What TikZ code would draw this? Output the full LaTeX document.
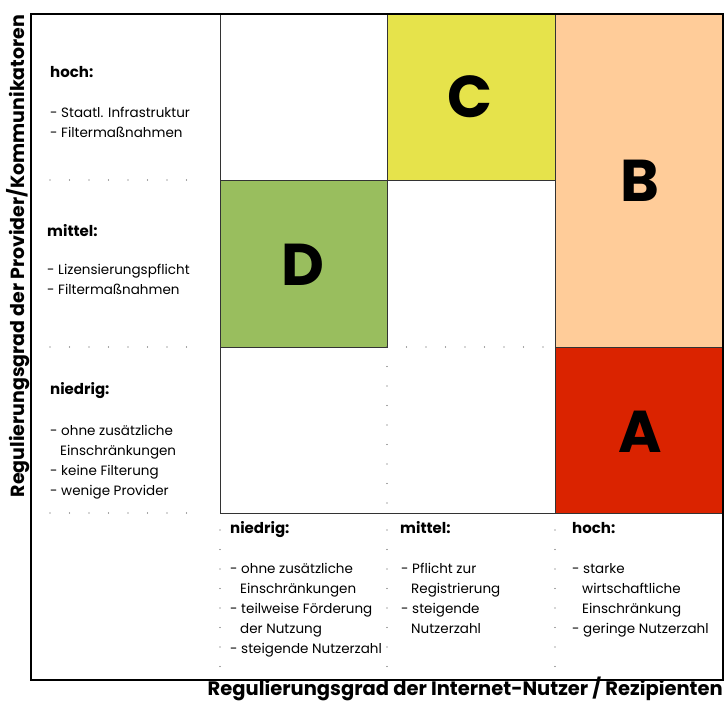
\documentclass[tikz,border=0pt]{standalone}
\usepackage{fontspec}
\setmainfont{Poppins}
\definecolor{cA}{HTML}{DA2300}
\definecolor{cB}{HTML}{FFCC99}
\definecolor{cC}{HTML}{E6E34B}
\definecolor{cD}{HTML}{99BE5E}
\begin{document}
\begin{tikzpicture}[x=1pt,y=-1pt,
  cell/.style={draw=black!80, line width=0.8pt},
  dotline/.style={draw=black!70, line width=1.4pt, dash pattern=on 0pt off 19.5pt, line cap=round},
  big/.style={font=\fontsize{59}{59}\selectfont\bfseries},
  head/.style={anchor=base west, inner sep=0pt, font=\fontsize{15}{15}\selectfont\bfseries},
  txt/.style={anchor=base west, align=left, inner sep=0pt, font=\fontsize{13.5}{20}\selectfont},
  axis/.style={inner sep=0pt, font=\fontsize{19}{20}\selectfont\bfseries}]
\useasboundingbox (0,0) rectangle (726,703);
% cells
\path[fill=cC] (387,14) rectangle (555,180);
\path[fill=cB] (555,14) rectangle (722,347);
\path[fill=cD] (220,180) rectangle (387,347);
\path[fill=cA] (555,347) rectangle (722,513);
\draw[cell] (220,14) rectangle (387,180);
\draw[cell] (387,14) rectangle (555,180);
\draw[cell] (555,14) rectangle (722,347);
\draw[cell] (220,180) rectangle (387,347);
\draw[cell] (555,347) rectangle (722,513);
\draw[cell] (220,347) -- (220,513) -- (555,513);
\draw[dotline] (387,347) -- (555,347);
\draw[dotline] (387,347) -- (387,513);
% left column dotted separators
\draw[dotline] (50,180) -- (205,180);
\draw[dotline] (50,347) -- (205,347);
\draw[dotline] (50,513) -- (205,513);
% bottom row dotted separators
\draw[dotline] (220,530) -- (220,668);
\draw[dotline] (387,530) -- (387,668);
\draw[dotline] (555,530) -- (555,668);
% frame
\draw[line width=2.5pt] (31,14) rectangle (723,680);
% big letters
\node[big] (C) at (470,97) {C};
\node[big] (B) at (640,181) {B};
\node[big] (D) at (303,265) {D};
\node[big] (A) at (640,432) {A};
% left column texts (anchor = baseline of last line)
\node[head] (lh) at (50,78) {hoch:};
\node[txt] (lht) at (50,138) {- Staatl. Infrastruktur\\- Filtermaßnahmen};
\node[head] (lm) at (47,237) {mittel:};
\node[txt] (lmt) at (47,295) {- Lizensierungspflicht\\- Filtermaßnahmen};
\node[head] (ln) at (50,395) {niedrig:};
\node[txt] (lnt) at (50,495) {- ohne zusätzliche\\\hspace*{10pt}Einschränkungen\\- keine Filterung\\- wenige Provider};
% bottom row texts
\node[head] (bn) at (230,533) {niedrig:};
\node[txt] (bnt) at (230,653) {- ohne zusätzliche\\\hspace*{10pt}Einschränkungen\\- teilweise Förderung\\\hspace*{10pt}der Nutzung\\- steigende Nutzerzahl};
\node[head] (bm) at (400,533) {mittel:};
\node[txt] (bmt) at (401,633) {- Pflicht zur\\\hspace*{10pt}Registrierung\\- steigende\\\hspace*{10pt}Nutzerzahl};
\node[head] (bh) at (572,533) {hoch:};
\node[txt] (bht) at (572,633) {- starke\\\hspace*{10pt}wirtschaftliche\\\hspace*{10pt}Einschränkung\\- geringe Nutzerzahl};
% axis labels
\node[axis, rotate=90] (ya) at (18,256) {Regulierungsgrad der Provider/Kommunikatoren};
\node[axis, anchor=base east, font=\fontsize{19.5}{20}\selectfont\bfseries] (xa) at (723,695) {Regulierungsgrad der Internet-Nutzer / Rezipienten};
\end{tikzpicture}
\end{document}
